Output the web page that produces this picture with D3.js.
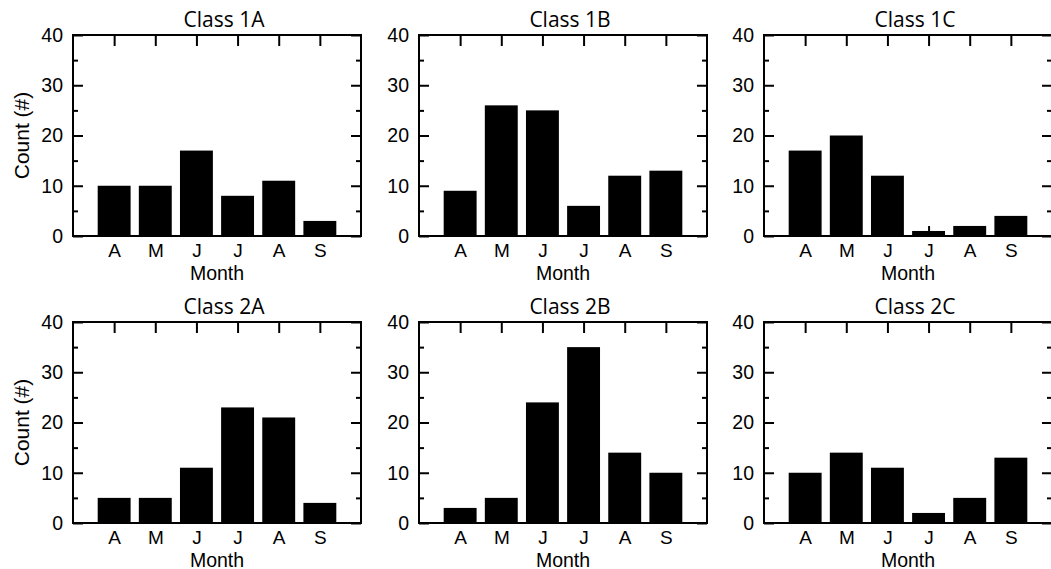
<!DOCTYPE html>
<html>
<head>
<meta charset="utf-8">
<script src="https://cdn.jsdelivr.net/npm/d3@7"></script>
<style>
  body { margin: 0; background: #fff; }
  svg text { fill: #000; }
</style>
</head>
<body>
<svg id="chart" width="1051" height="569"></svg>
<script>
// data
const months = ["A", "M", "J", "J", "A", "S"];
const panelNames = ["Class 1A", "Class 1B", "Class 1C", "Class 2A", "Class 2B", "Class 2C"];
const class1A = [10, 10, 17, 8, 11, 3];
const class1B = [9, 26, 25, 6, 12, 13];
const class1C = [17, 20, 12, 1, 2, 4];
const class2A = [5, 5, 11, 23, 21, 4];
const class2B = [3, 5, 24, 35, 14, 10];
const class2C = [10, 14, 11, 2, 5, 13];
const yMajor = [0, 10, 20, 30, 40];
const yMinor = [5, 15, 25, 35];

const panelValues = [class1A, class1B, class1C, class2A, class2B, class2C];

// layout
const colLeft = [73, 419, 764];
const rowTop = [35, 322];
const pw = 288, ph = 201;
const labelFont = "'Liberation Sans', Arial, sans-serif";
const titleFont = "'Open Sans', 'Noto Sans', sans-serif";

const svg = d3.select("#chart");

const x = d3.scaleLinear().domain([0, 7]).range([0, pw]);
const y = d3.scaleLinear().domain([0, 40]).range([ph, 0]);

function styleAxis(g) {
  g.select(".domain").remove();
  g.selectAll("line").attr("stroke", "#000").attr("stroke-width", 2);
  g.selectAll("text")
    .attr("font-family", labelFont)
    .attr("font-size", 19.5)
    .attr("fill", "#000");
}

panelValues.forEach((vals, k) => {
  const row = Math.floor(k / 3), col = k % 3;
  const g = svg.append("g")
    .attr("transform", `translate(${colLeft[col]},${rowTop[row]})`);

  // bars
  g.selectAll("rect.bar")
    .data(vals)
    .join("rect")
    .attr("class", "bar")
    .attr("x", (d, i) => x(i + 1 - 0.4))
    .attr("width", x(0.8) - x(0))
    .attr("y", d => y(d))
    .attr("height", d => y(0) - y(d))
    .attr("fill", "#000");

  // left axis, major + minor
  g.append("g")
    .call(d3.axisLeft(y).tickValues(yMajor).tickSize(-10).tickSizeOuter(0).tickPadding(10))
    .call(styleAxis);
  g.append("g")
    .call(d3.axisLeft(y).tickValues(yMinor).tickSize(-5).tickSizeOuter(0).tickFormat(""))
    .call(styleAxis);

  // right axis
  g.append("g")
    .attr("transform", `translate(${pw},0)`)
    .call(d3.axisRight(y).tickValues(yMajor).tickSize(-10).tickSizeOuter(0).tickFormat(""))
    .call(styleAxis);
  g.append("g")
    .attr("transform", `translate(${pw},0)`)
    .call(d3.axisRight(y).tickValues(yMinor).tickSize(-5).tickSizeOuter(0).tickFormat(""))
    .call(styleAxis);

  // top axis
  g.append("g")
    .call(d3.axisTop(x).tickValues(d3.range(1, 7)).tickSize(-11).tickSizeOuter(0).tickFormat(""))
    .call(styleAxis);

  // bottom axis with month labels
  const bx = g.append("g")
    .attr("transform", `translate(0,${ph})`)
    .call(d3.axisBottom(x).tickValues(d3.range(1, 7)).tickSize(-10).tickSizeOuter(0)
      .tickPadding(7.5).tickFormat((d, i) => months[i]))
    .call(styleAxis);
  bx.selectAll("text").attr("font-size", 19);

  // frame
  g.append("rect")
    .attr("width", pw).attr("height", ph)
    .attr("fill", "none").attr("stroke", "#000").attr("stroke-width", 2);

  // x axis title
  g.append("text")
    .attr("x", pw / 2).attr("y", ph + 43.5)
    .attr("text-anchor", "middle")
    .attr("font-family", labelFont).attr("font-size", 19.5)
    .text("Month");

  // panel title
  g.append("text")
    .attr("x", pw / 2 + 7).attr("y", -8)
    .attr("text-anchor", "middle")
    .attr("font-family", titleFont).attr("font-size", 21)
    .text(panelNames[k]);

  // y axis title on the left column
  if (col === 0) {
    g.append("text")
      .attr("transform", `translate(-44,${ph / 2}) rotate(-90)`)
      .attr("text-anchor", "middle")
      .attr("font-family", labelFont).attr("font-size", 21)
      .text("Count (#)");
  }
});
</script>
</body>
</html>
